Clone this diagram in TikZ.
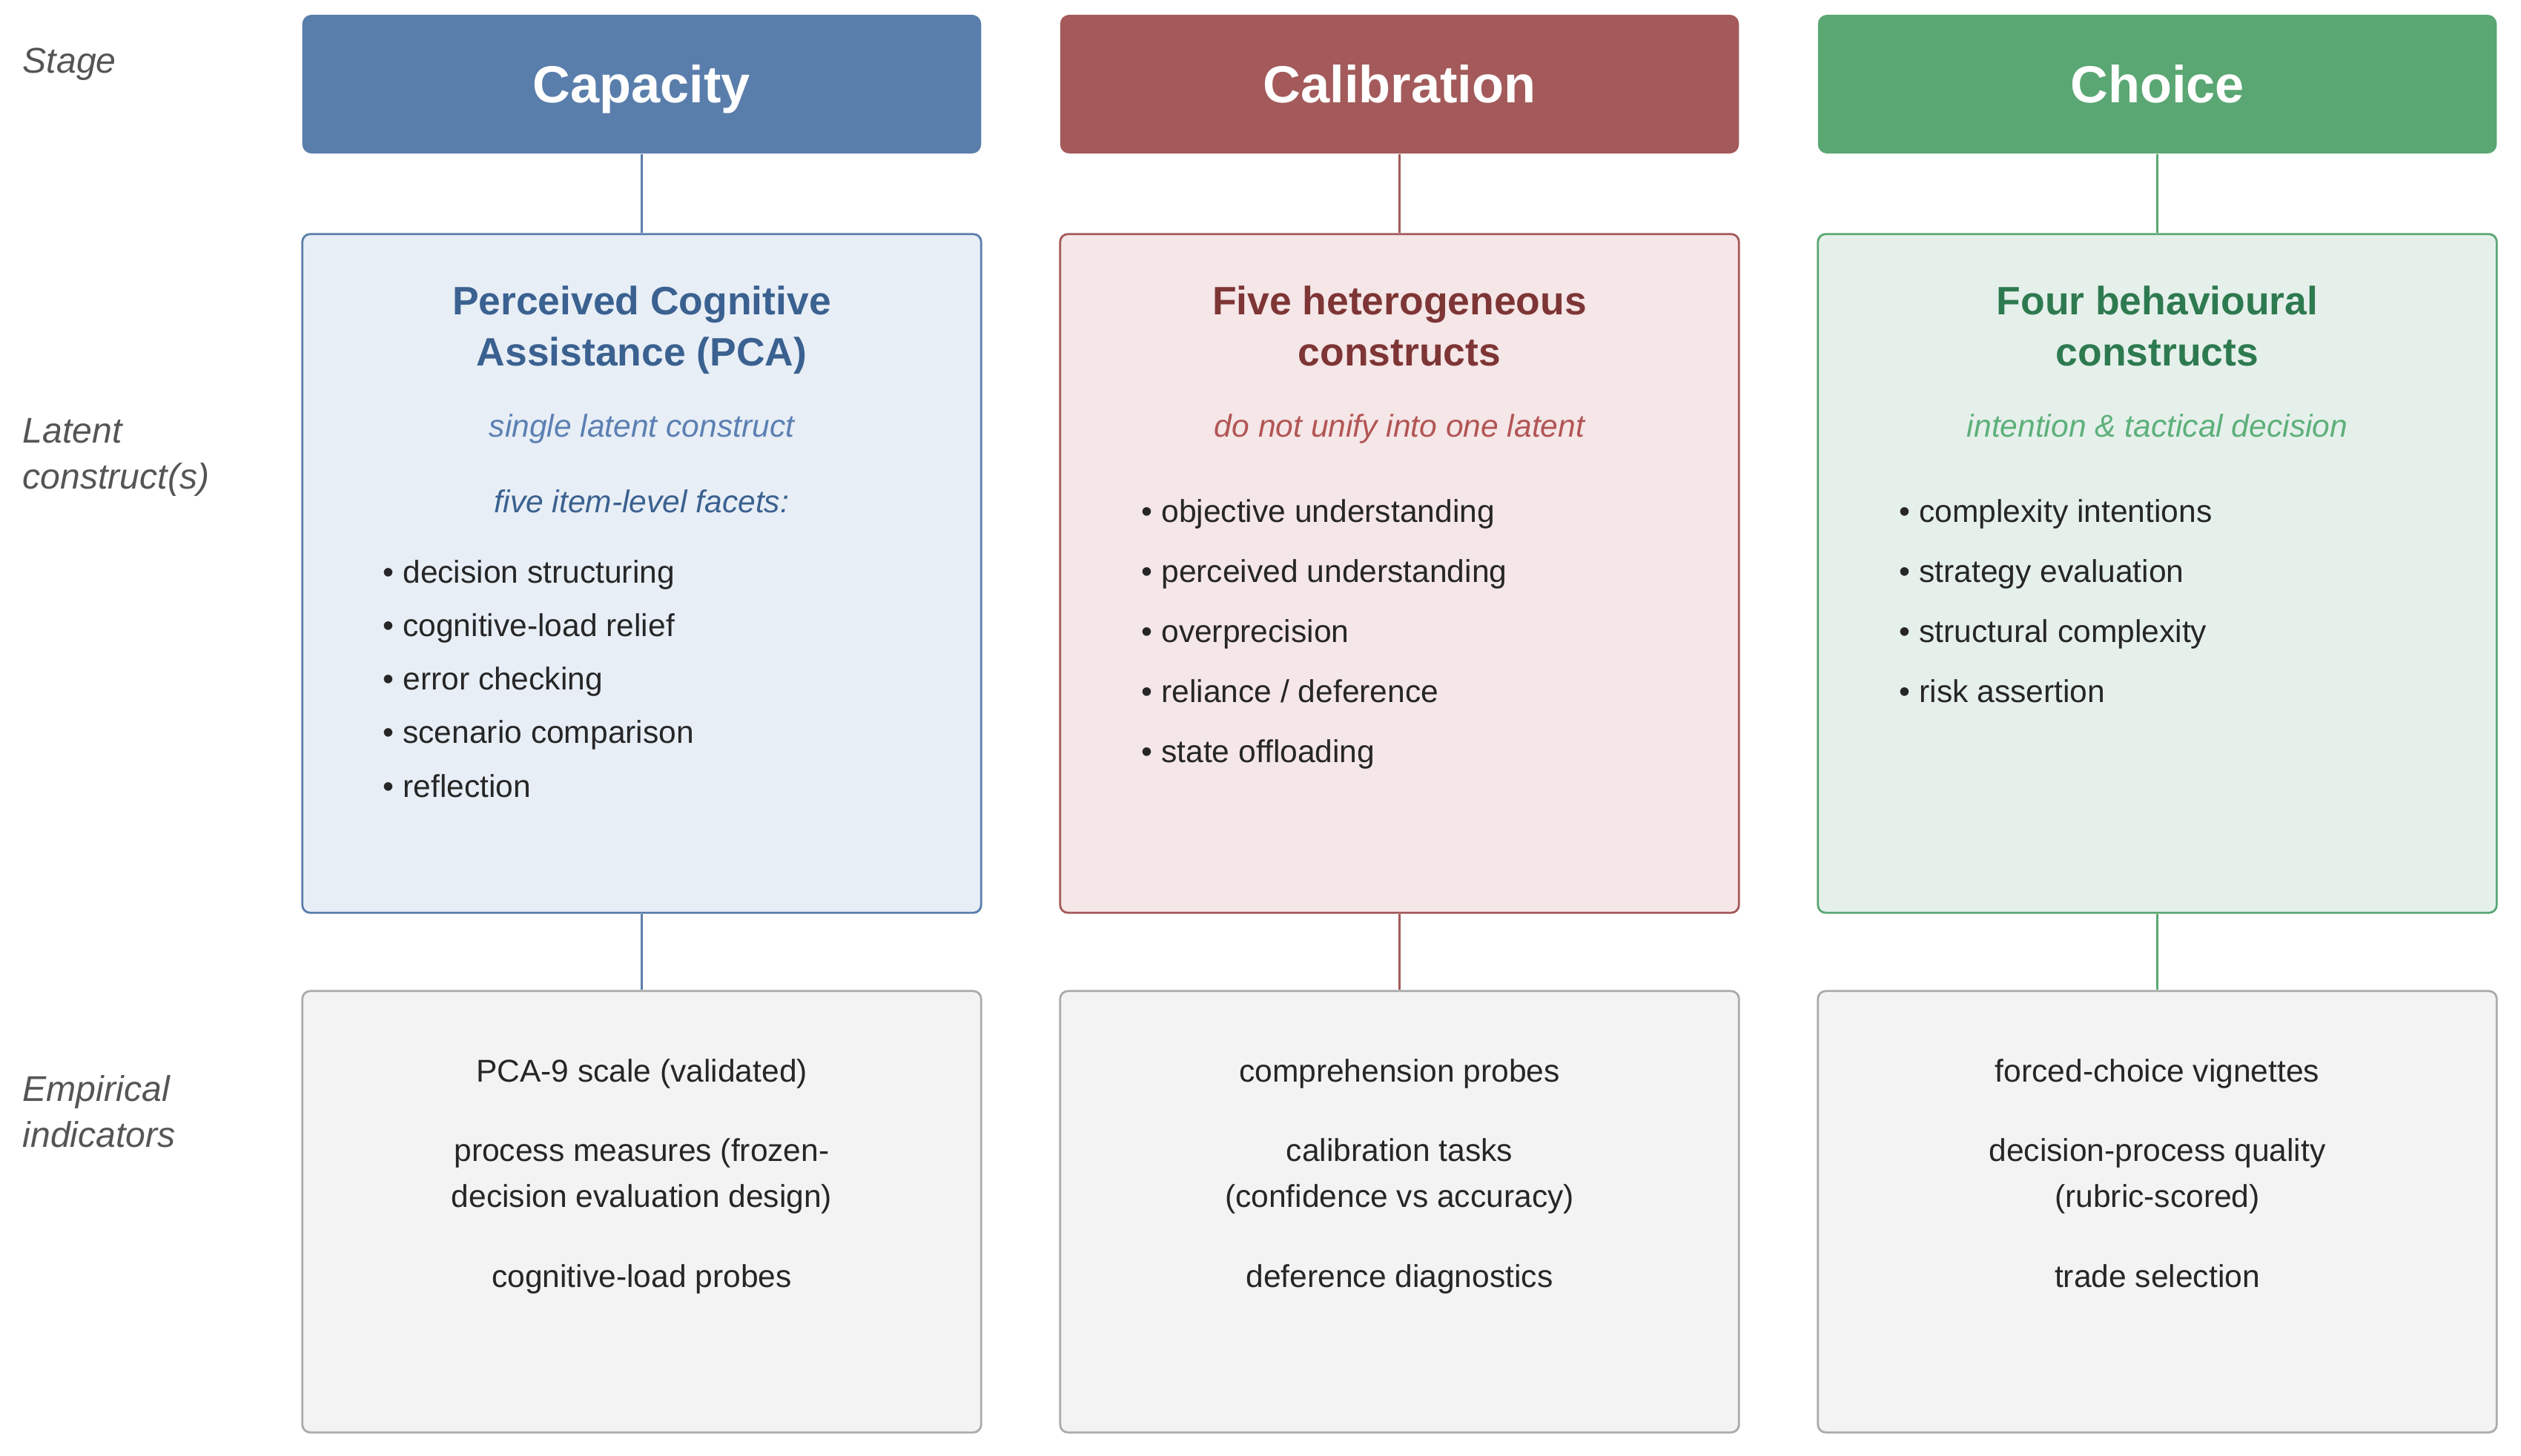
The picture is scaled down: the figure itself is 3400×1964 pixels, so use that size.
\documentclass[tikz,border=0pt]{standalone}
\usepackage{fontspec}
\setmainfont{Liberation Sans}

\definecolor{capcol}{HTML}{5A7EAB}
\definecolor{capfill}{HTML}{E8EEF6}
\definecolor{captxt}{HTML}{3A6190}
\definecolor{capit}{HTML}{5B80B2}
\definecolor{calcol}{HTML}{A45A5A}
\definecolor{calfill}{HTML}{F5E6E7}
\definecolor{caltxt}{HTML}{7E3535}
\definecolor{calit}{HTML}{B25555}
\definecolor{chocol}{HTML}{5AA773}
\definecolor{chofill}{HTML}{E6F0EB}
\definecolor{chotxt}{HTML}{2E7A50}
\definecolor{choit}{HTML}{5DB07A}
\definecolor{indfill}{HTML}{F3F3F3}
\definecolor{inddraw}{HTML}{ABABAB}
\definecolor{bodytxt}{HTML}{262626}
\definecolor{sidetxt}{HTML}{555555}

\begin{document}
\begin{tikzpicture}[x=0.01cm,y=-0.01cm,
  stagebox/.style={rounded corners=3.5pt,minimum width=9.15cm,minimum height=1.87cm,
    text height=14.4pt,text depth=0pt,
    text=white,font=\fontsize{20}{24}\selectfont\bfseries},
  latentbox/.style={draw,line width=0.8pt,rounded corners=3pt,
    minimum width=9.15cm,minimum height=9.15cm},
  indbox/.style={draw=inddraw,fill=indfill,line width=0.8pt,rounded corners=3pt,
    minimum width=9.15cm,minimum height=5.95cm},
  link/.style={line width=0.8pt},
  title/.style={align=center,anchor=base,inner sep=0pt,
    font=\fontsize{15.2}{19.9}\selectfont\bfseries},
  note/.style={anchor=base,inner sep=0pt,font=\fontsize{12.1}{17.4}\selectfont\itshape},
  bullets/.style={align=left,anchor=base west,inner sep=0pt,text=bodytxt},
  ind/.style={align=center,anchor=base,inner sep=0pt,text=bodytxt,
    font=\fontsize{12.1}{17.4}\selectfont},
  side/.style={align=left,anchor=base west,inner sep=0pt,text=sidetxt,
    font=\fontsize{13.7}{17.4}\selectfont\itshape}]
  \useasboundingbox (0,0) rectangle (3400,1964);

  % row labels (multi-line texts sit on their last baseline)
  \node[side] (lstage) at (30,99) {Stage};
  \node[side] (llatent) at (30,659) {Latent\\construct(s)};
  \node[side] (lind) at (30,1547) {Empirical\\indicators};

  % stages
  \node[stagebox,fill=capcol] (cap) at (865.5,113.5) {Capacity};
  \node[stagebox,fill=calcol] (cal) at (1887.5,113.5) {Calibration};
  \node[stagebox,fill=chocol] (cho) at (2909.5,113.5) {Choice};

  % latent constructs
  \node[latentbox,draw=capcol,fill=capfill] (capL) at (865.5,773.5) {};
  \node[latentbox,draw=calcol,fill=calfill] (calL) at (1887.5,773.5) {};
  \node[latentbox,draw=chocol,fill=chofill] (choL) at (2909.5,773.5) {};

  % indicators
  \node[indbox] (capI) at (865.5,1634.5) {};
  \node[indbox] (calI) at (1887.5,1634.5) {};
  \node[indbox] (choI) at (2909.5,1634.5) {};

  \draw[link,capcol] (cap) -- (capL) (capL) -- (capI);
  \draw[link,calcol] (cal) -- (calL) (calL) -- (calI);
  \draw[link,chocol] (cho) -- (choL) (choL) -- (choI);

  % capacity column
  \node[title,text=captxt] (capT) at (865.5,494) {Perceived Cognitive\\Assistance (PCA)};
  \node[note,text=capit] (capN) at (865.5,590) {single latent construct};
  \node[note,text=captxt] (capF) at (865.5,691) {five item-level facets:};
  \node[bullets,font=\fontsize{12.1}{20.5}\selectfont] (capB) at (516,1075)
    {• decision structuring\\• cognitive-load relief\\• error checking\\%
     • scenario comparison\\• reflection};
  \node[ind] (capI1) at (865.5,1459) {PCA-9 scale (validated)};
  \node[ind] (capI2) at (865.5,1628) {process measures (frozen-\\decision evaluation design)};
  \node[ind] (capI3) at (865.5,1736) {cognitive-load probes};

  % calibration column
  \node[title,text=caltxt] (calT) at (1887.5,494) {Five heterogeneous\\constructs};
  \node[note,text=calit] (calN) at (1887.5,590) {do not unify into one latent};
  \node[bullets,font=\fontsize{12.1}{23}\selectfont] (calB) at (1539,1028)
    {• objective understanding\\• perceived understanding\\• overprecision\\%
     • reliance / deference\\• state offloading};
  \node[ind] (calI1) at (1887.5,1459) {comprehension probes};
  \node[ind] (calI2) at (1887.5,1628) {calibration tasks\\(confidence vs accuracy)};
  \node[ind] (calI3) at (1887.5,1736) {deference diagnostics};

  % choice column
  \node[title,text=chotxt] (choT) at (2909.5,494) {Four behavioural\\constructs};
  \node[note,text=choit] (choN) at (2909.5,590) {intention \& tactical decision};
  \node[bullets,font=\fontsize{12.1}{23}\selectfont] (choB) at (2561,947)
    {• complexity intentions\\• strategy evaluation\\• structural complexity\\%
     • risk assertion};
  \node[ind] (choI1) at (2909.5,1459) {forced-choice vignettes};
  \node[ind] (choI2) at (2909.5,1628) {decision-process quality\\(rubric-scored)};
  \node[ind] (choI3) at (2909.5,1736) {trade selection};
\end{tikzpicture}
\end{document}
